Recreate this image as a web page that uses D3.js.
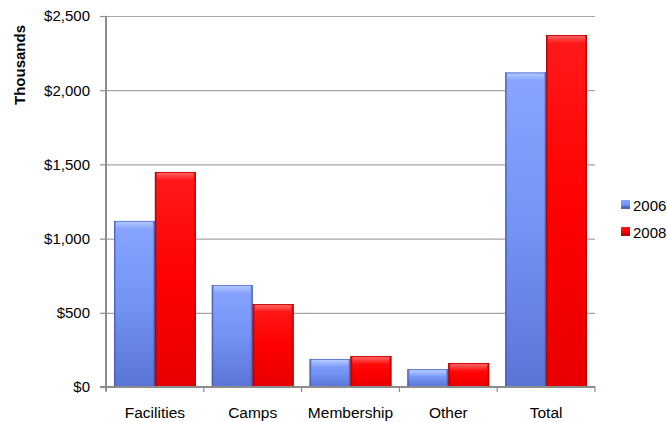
<!DOCTYPE html>
<html>
<head>
<meta charset="utf-8">
<script src="https://cdn.jsdelivr.net/npm/d3@7"></script>
<style>
  html, body { margin: 0; padding: 0; background: #fff; }
  svg { display: block; font-family: "Liberation Sans", Arial, sans-serif; }
</style>
</head>
<body>
<svg id="chart" width="667" height="422"></svg>
<script>
// Revenue by source, in thousands of dollars
const categories = ["Facilities", "Camps", "Membership", "Other", "Total"];
const seriesNames = ["2006", "2008"];
const values2006 = [1119, 687, 189, 121, 2120];
const values2008 = [1449, 559, 209, 162, 2372];
const yTicks = [0, 500, 1000, 1500, 2000, 2500];

const svg = d3.select("#chart");
const margin = { left: 106, right: 72, top: 16, bottom: 35 };
const W = 667, H = 422;
const plotW = W - margin.left - margin.right;
const plotH = H - margin.top - margin.bottom;

const x = d3.scaleBand().domain(categories).range([0, plotW]).paddingInner(0).paddingOuter(0);
const inner = d3.scaleBand().domain(seriesNames).range([8, x.bandwidth() - 8]).padding(0);
const y = d3.scaleLinear().domain([0, 2500]).range([plotH, 0]);

const defs = svg.append("defs");
const palettes = {
  "2006": { top: "#88a6ff", mid: "#7393f5", bot: "#5a74d6", edge: "#3f58b0", hi: "#b9ccff" },
  "2008": { top: "#ff1a1a", mid: "#ff0000", bot: "#e80000", edge: "#a00000", hi: "#ff6a6a" }
};
seriesNames.forEach(s => {
  const p = palettes[s];
  const v = defs.append("linearGradient").attr("id", "v" + s).attr("x1", 0).attr("y1", 0).attr("x2", 0).attr("y2", 1);
  v.append("stop").attr("offset", "0%").attr("stop-color", p.top);
  v.append("stop").attr("offset", "50%").attr("stop-color", p.mid);
  v.append("stop").attr("offset", "100%").attr("stop-color", p.bot);
  const h = defs.append("linearGradient").attr("id", "h" + s).attr("x1", 0).attr("y1", 0).attr("x2", 1).attr("y2", 0);
  h.append("stop").attr("offset", "0%").attr("stop-color", p.edge).attr("stop-opacity", 0.75);
  h.append("stop").attr("offset", "6%").attr("stop-color", p.edge).attr("stop-opacity", 0);
  h.append("stop").attr("offset", "94%").attr("stop-color", p.edge).attr("stop-opacity", 0);
  h.append("stop").attr("offset", "100%").attr("stop-color", p.edge).attr("stop-opacity", 0.8);
  const t = defs.append("linearGradient").attr("id", "t" + s).attr("x1", 0).attr("y1", 0).attr("x2", 0).attr("y2", 1);
  t.append("stop").attr("offset", "0%").attr("stop-color", p.hi).attr("stop-opacity", 0.9);
  t.append("stop").attr("offset", "100%").attr("stop-color", p.hi).attr("stop-opacity", 0);
});

const g = svg.append("g").attr("transform", `translate(${margin.left},${margin.top})`);

// horizontal gridlines with small outer ticks
g.append("g")
  .call(d3.axisLeft(y).tickValues(yTicks).tickSize(-plotW).tickFormat(""))
  .call(a => a.select(".domain").remove())
  .call(a => a.selectAll(".tick line").attr("stroke", "#a6a6a6").attr("stroke-width", 1.2));
g.append("g")
  .call(d3.axisLeft(y).tickValues(yTicks).tickSize(6).tickFormat(""))
  .call(a => a.select(".domain").remove())
  .call(a => a.selectAll(".tick line").attr("stroke", "#8c8c8c").attr("stroke-width", 1.2));

// y tick labels
g.append("g").selectAll("text").data(yTicks).join("text")
  .attr("x", -16).attr("y", d => y(d)).attr("dy", "0.36em")
  .attr("text-anchor", "end").attr("font-size", 15).attr("fill", "#000")
  .text(d => "$" + d3.format(",")(d));

// bars
const data = categories.map((c, i) => ({ c, vals: [values2006[i], values2008[i]] }));
const groups = g.append("g").selectAll("g").data(data).join("g")
  .attr("transform", d => `translate(${x(d.c)},0)`);
groups.each(function(d) {
  const grp = d3.select(this);
  seriesNames.forEach((s, j) => {
    const bx = inner(s), bw = inner.bandwidth(), by = y(d.vals[j]), bh = plotH - y(d.vals[j]);
    grp.append("rect").attr("x", bx).attr("y", by).attr("width", bw).attr("height", bh).attr("fill", `url(#v${s})`);
    grp.append("rect").attr("x", bx).attr("y", by).attr("width", bw).attr("height", bh).attr("fill", `url(#h${s})`);
    grp.append("rect").attr("x", bx + 2).attr("y", by + 1).attr("width", bw - 4).attr("height", Math.min(7, bh - 1)).attr("fill", `url(#t${s})`);
    grp.append("rect").attr("x", bx + 0.5).attr("y", by + 0.5).attr("width", bw - 1).attr("height", bh - 1)
      .attr("fill", "none").attr("stroke", palettes[s].edge).attr("stroke-opacity", 0.5).attr("stroke-width", 1);
  });
});

// axes lines
g.append("line").attr("x1", 0).attr("x2", 0).attr("y1", 0).attr("y2", plotH + 4)
  .attr("stroke", "#8c8c8c").attr("stroke-width", 2);
g.append("line").attr("x1", -6).attr("x2", plotW).attr("y1", plotH).attr("y2", plotH)
  .attr("stroke", "#8c8c8c").attr("stroke-width", 2);
// category ticks on the x axis
g.append("g").attr("transform", `translate(0,${plotH})`)
  .selectAll("line").data(categories.map(c => x(c)).concat([plotW])).join("line")
  .attr("x1", d => d).attr("x2", d => d).attr("y1", 0).attr("y2", 5)
  .attr("stroke", "#8c8c8c").attr("stroke-width", 1.2);

// category labels
g.append("g").selectAll("text").data(categories).join("text")
  .attr("x", d => x(d) + x.bandwidth() / 2).attr("y", plotH + 31)
  .attr("text-anchor", "middle").attr("font-size", 15.5).attr("fill", "#000")
  .text(d => d);

// y axis title
svg.append("text")
  .attr("transform", "translate(25,65) rotate(-90)")
  .attr("text-anchor", "middle").attr("font-size", 15).attr("font-weight", "bold")
  .text("Thousands");

// legend
const legend = svg.append("g").attr("transform", "translate(621,200)");
seriesNames.forEach((s, i) => {
  const row = legend.append("g").attr("transform", `translate(0,${i * 27})`);
  row.append("rect").attr("width", 9).attr("height", 9).attr("fill", `url(#v${s})`);
  row.append("rect").attr("width", 9).attr("height", 3).attr("y", 6).attr("fill", palettes[s].edge).attr("opacity", 0.6);
  row.append("text").attr("x", 12).attr("y", 10.5).attr("font-size", 15).attr("fill", "#000").text(s);
});
</script>
</body>
</html>
